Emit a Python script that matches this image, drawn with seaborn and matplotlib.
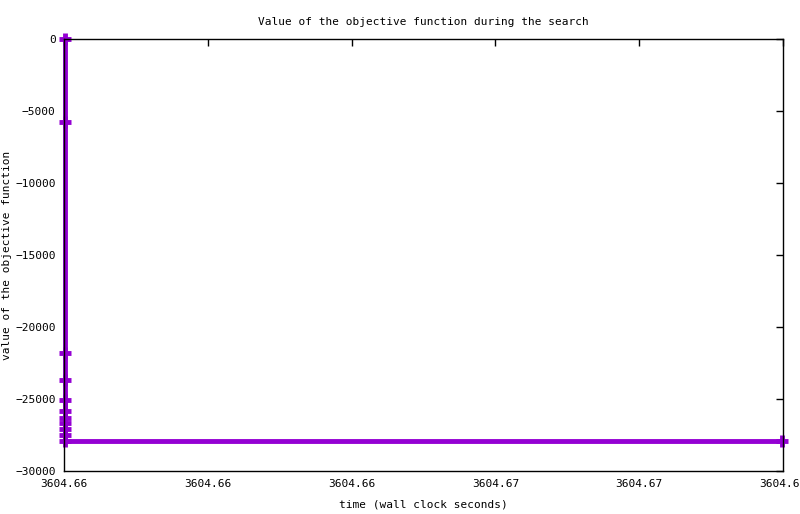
import matplotlib
matplotlib.use("Agg")
import matplotlib.pyplot as plt
import matplotlib.ticker as mticker
import seaborn as sns
import pandas as pd

time_s = [3604.65952, 3604.65952, 3604.65952, 3604.65952, 3604.65952, 3604.65952,
          3604.65952, 3604.65952, 3604.65952, 3604.65952, 3604.65952, 3604.66948]
objective = [0, -5750, -21800, -23700, -25100, -25800, -26300, -26700, -27100,
             -27500, -27900, -27900]

title = "Value of the objective function during the search"
xlabel = "time (wall clock seconds)"
ylabel = "value of the objective function"

df = pd.DataFrame({"time": time_s, "objective": objective})

sns.set_style("white")
plt.rcParams["font.family"] = ["DejaVu Sans Mono", "DejaVu Sans"]
plt.rcParams["text.color"] = "black"
plt.rcParams["axes.labelcolor"] = "black"

fig = plt.figure(figsize=(8, 5.14), dpi=100)
ax = fig.add_axes([64 / 800, 43 / 514, 719 / 800, 432 / 514])

sns.lineplot(data=df, x="time", y="objective", sort=False, estimator=None, ax=ax,
             color="#9400d3", linewidth=3.5, marker="+", markersize=9,
             markeredgewidth=3.5, markeredgecolor="#9400d3", clip_on=False, zorder=1)

ax.set_xlim(3604.6595, 3604.6695)
ax.set_ylim(-30000, 0)
ax.set_xticks([3604.6595 + 0.002 * i for i in range(6)])
ax.xaxis.set_major_formatter(mticker.FormatStrFormatter("%.2f"))
ax.set_yticks(range(-30000, 1, 5000))
ax.tick_params(direction="in", length=5, width=1, labelsize=8, top=True, right=True,
               colors="black", pad=6)
for s in ax.spines.values():
    s.set_color("black")
    s.set_linewidth(1)
    s.set_zorder(3)

ax.set_title(title, fontsize=8, pad=10, color="black")
ax.set_xlabel(xlabel, fontsize=8, labelpad=7)
ax.set_ylabel(ylabel, fontsize=8, labelpad=2)

fig.savefig("out.png", dpi=100)
